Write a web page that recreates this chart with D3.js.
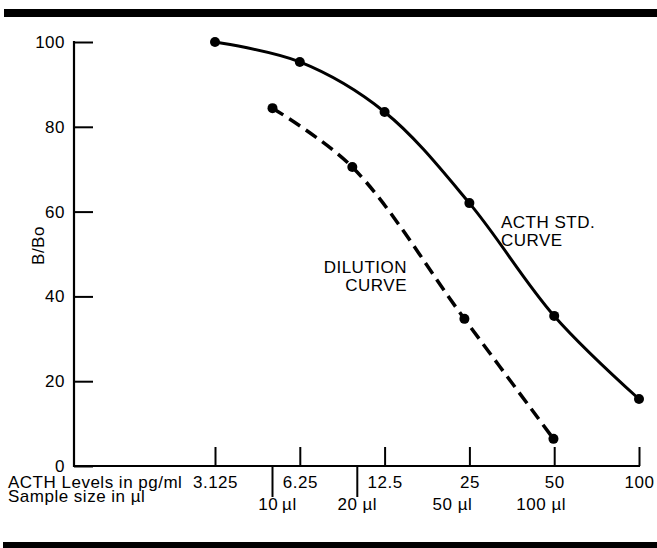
<!DOCTYPE html>
<html lang="en">
<head>
<meta charset="utf-8">
<title>ACTH curve</title>
<script src="https://cdn.jsdelivr.net/npm/d3@7"></script>
<style>
  body { margin: 0; background: #fff; }
  svg text { font-family: "Liberation Sans", Arial, Helvetica, sans-serif; fill: #000; letter-spacing: 0.5px; }
</style>
</head>
<body>
<div id="chart"></div>
<script>
// ACTH levels (pg/ml) on the log axis and their labels
var acthLevels = [3.125, 6.25, 12.5, 25, 50, 100];
var acthLabels = ["3.125", "6.25", "12.5", "25", "50", "100"];

// sample size axis (µl)
var sampleSizes = [10, 20, 50, 100];
var sampleLabels = ["10\u2009µl", "20 µl", "50 µl", "100 µl"];

// ACTH standard curve, B/Bo
var stdX = [3.125, 6.25, 12.5, 25, 50, 100];
var stdY = [100, 95.3, 83.5, 62, 35.4, 15.8];

// dilution curve, sample size in µl vs B/Bo
var dilX = [10, 19.2, 48, 99.4];
var dilY = [84.4, 70.5, 34.7, 6.4];

var yTicks = [0, 20, 40, 60, 80, 100];

var W = 657, H = 548;
var svg = d3.select("#chart").append("svg")
    .attr("width", W)
    .attr("height", H);

var x = d3.scaleLog().domain([3.125, 100]).range([215, 639]);
// 10 µl sits where 5 pg/ml would be, so the sample axis is the same scale shifted
var xs = d3.scaleLog().domain([6.25, 200]).range([215, 639]);
var y = d3.scaleLinear().domain([0, 100]).range([466, 42]);
var x0 = 74;

// black rules top and bottom
svg.append("rect").attr("x", 4).attr("y", 9).attr("width", W - 4).attr("height", 8).attr("fill", "#000");
svg.append("rect").attr("x", 3).attr("y", 542).attr("width", W - 3).attr("height", 8).attr("fill", "#000");

// y axis, ticks pointing into the plot
var yAxis = svg.append("g")
    .attr("transform", "translate(" + x0 + ",0)")
    .call(d3.axisLeft(y).tickValues(yTicks).tickSizeInner(-19).tickSizeOuter(0).tickPadding(9));
yAxis.select(".domain").remove();
yAxis.selectAll("line").attr("stroke", "#000").attr("stroke-width", 2);
yAxis.selectAll("text").attr("font-size", 17).attr("font-family", null);
yAxis.append("line")
    .attr("x1", 0).attr("x2", 0)
    .attr("y1", y(100) - 1).attr("y2", y(0) + 1)
    .attr("stroke", "#000").attr("stroke-width", 2.2);

svg.append("text")
    .attr("transform", "translate(44," + y(52) + ") rotate(-90)")
    .attr("text-anchor", "middle")
    .attr("font-size", 17)
    .text("B/Bo");

// x axis (ACTH), ticks up, labels under
var xAxis = svg.append("g")
    .attr("transform", "translate(0," + y(0) + ")")
    .call(d3.axisBottom(x).tickValues(acthLevels)
        .tickFormat(function(d, i) { return acthLabels[i]; })
        .tickSizeInner(-19).tickSizeOuter(0).tickPadding(10));
xAxis.select(".domain").remove();
xAxis.selectAll("line").attr("stroke", "#000").attr("stroke-width", 2);
xAxis.selectAll("text").attr("font-size", 17).attr("font-family", null);
xAxis.append("line")
    .attr("x1", x0 - 1).attr("x2", x(100) + 1)
    .attr("y1", 0).attr("y2", 0)
    .attr("stroke", "#000").attr("stroke-width", 2.2);

// sample size ticks (only the two that fall between ACTH ticks)
svg.selectAll(".stick")
    .data(sampleSizes.filter(function(d) { return d < 50; }))
    .enter().append("line")
    .attr("x1", function(d) { return xs(d); })
    .attr("x2", function(d) { return xs(d); })
    .attr("y1", y(0))
    .attr("y2", y(0) + 31)
    .attr("stroke", "#000").attr("stroke-width", 2);

var labelShift = [5, 0, -17, -13];
svg.selectAll(".slab")
    .data(sampleSizes)
    .enter().append("text")
    .attr("x", function(d, i) { return xs(d) + labelShift[i]; })
    .attr("y", 510)
    .attr("text-anchor", "middle")
    .attr("font-size", 17)
    .text(function(d, i) { return sampleLabels[i]; });

svg.append("text").attr("x", 8).attr("y", 488).attr("font-size", 17)
    .text("ACTH Levels in pg/ml");
svg.append("text").attr("x", 8).attr("y", 502).attr("font-size", 17)
    .text("Sample size in µl");

// curves
var stdPts = stdX.map(function(d, i) { return [x(d), y(stdY[i])]; });
var dilPts = dilX.map(function(d, i) { return [xs(d), y(dilY[i])]; });
var line = d3.line().curve(d3.curveCatmullRom.alpha(0.5));

svg.append("path")
    .attr("d", line(stdPts))
    .attr("fill", "none").attr("stroke", "#000").attr("stroke-width", 3);
svg.append("path")
    .attr("d", line(dilPts))
    .attr("fill", "none").attr("stroke", "#000").attr("stroke-width", 3.5)
    .attr("stroke-dasharray", "13,7");

svg.selectAll(".sdot").data(stdPts).enter().append("circle")
    .attr("cx", function(d) { return d[0]; })
    .attr("cy", function(d) { return d[1]; })
    .attr("r", 5).attr("fill", "#000");
svg.selectAll(".ddot").data(dilPts).enter().append("circle")
    .attr("cx", function(d) { return d[0]; })
    .attr("cy", function(d) { return d[1]; })
    .attr("r", 5).attr("fill", "#000");

// curve names
svg.append("text").attr("x", 501).attr("y", 228).attr("font-size", 17).text("ACTH STD.");
svg.append("text").attr("x", 501).attr("y", 246).attr("font-size", 17).text("CURVE");
svg.append("text").attr("x", 407).attr("y", 273).attr("font-size", 17).attr("text-anchor", "end").text("DILUTION");
svg.append("text").attr("x", 407).attr("y", 291).attr("font-size", 17).attr("text-anchor", "end").text("CURVE");
</script>
</body>
</html>
